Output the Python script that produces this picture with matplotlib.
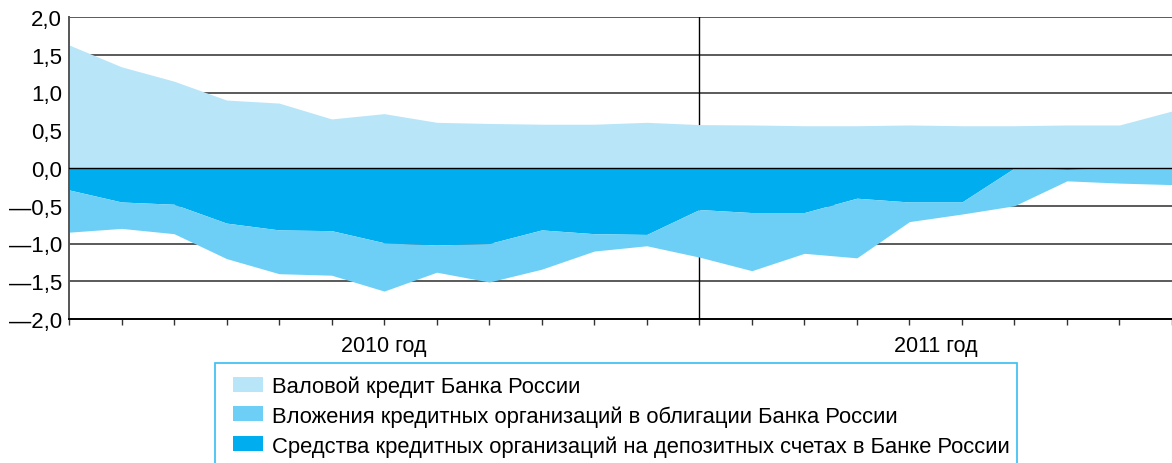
import numpy as np
import matplotlib.pyplot as plt
from matplotlib.patches import Rectangle

plt.rcParams['font.family'] = ['Liberation Sans', 'DejaVu Sans']

# monthly points, Jan 2010 .. Oct 2011, трлн руб.
months = list(range(22))
gross_credit = [1.63, 1.34, 1.15, 0.90, 0.86, 0.65, 0.72, 0.605, 0.59, 0.58, 0.58,
                0.605, 0.575, 0.57, 0.56, 0.56, 0.57, 0.56, 0.56, 0.57, 0.57, 0.755]
deposits = [-0.29, -0.45, -0.48, -0.73, -0.82, -0.83, -0.99, -1.02, -1.00, -0.82, -0.87,
            -0.88, -0.55, -0.59, -0.59, -0.40, -0.45, -0.45, 0.0, -0.02, 0.0, 0.0]
bonds = [-0.56, -0.35, -0.39, -0.47, -0.58, -0.59, -0.64, -0.36, -0.51, -0.52, -0.23,
         -0.15, -0.63, -0.77, -0.54, -0.79, -0.26, -0.16, -0.50, -0.15, -0.20, -0.22]
year_labels = ['2010 год', '2011 год']
series_names = ['Валовой кредит Банка России',
                'Вложения кредитных организаций в облигации Банка России',
                'Средства кредитных организаций на депозитных счетах в Банке России']

c_light = '#B9E5F8'
c_mid = '#6DCFF6'
c_dark = '#00AEEF'

W, H = 1172, 464
x = np.array(months)
dep = np.array(deposits)
total = dep + np.array(bonds)

fig = plt.figure(figsize=(W / 100, H / 100), dpi=100)
ax = fig.add_axes([69 / W, 144 / H, 1 - 69 / W, 302 / H])

# grid under the fills
for yv in [2.0, 1.5, 1.0, 0.5, -0.5, -1.0, -1.5]:
    ax.axhline(yv, color='#5a5a5a', lw=1.4, zorder=0)
ax.axvline(12, color='black', lw=1.0, zorder=0)

ax.fill_between(x, 0, gross_credit, color=c_light, lw=0, zorder=1)
ax.fill_between(x, 0, dep, color=c_dark, lw=0, zorder=1)
ax.fill_between(x, dep, total, color=c_mid, lw=0, zorder=1)
ax.axhline(0, color='black', lw=1.0, zorder=3)

ax.set_xlim(0, 21)
ax.set_ylim(-2.0, 2.0)
ax.set_xticks(x)
ax.set_xticklabels([])
ax.tick_params(axis='x', length=4, width=1, color='#333333', direction='out')
yt = np.arange(-2.0, 2.01, 0.5)
ax.set_yticks(yt)
ax.set_yticklabels([('—' if v < 0 else '') + f'{abs(v):.1f}'.replace('.', ',') for v in yt])
ax.tick_params(axis='y', length=0, pad=5, labelsize=16)
for s in ['top', 'right']:
    ax.spines[s].set_visible(False)
ax.spines['left'].set_color('#555555')
ax.spines['left'].set_linewidth(1.4)
ax.spines['bottom'].set_color('black')
ax.spines['bottom'].set_linewidth(1.4)

ax.text(6, -2.42, year_labels[0], ha='center', va='baseline', fontsize=15.5)
ax.text(16.5, -2.42, year_labels[1], ha='center', va='baseline', fontsize=15.5)

# legend box, drawn by hand (runs off the bottom edge like in the source)
fig.patches.append(Rectangle((215 / W, -0.05), (1017 - 215) / W, 0.05 + (H - 364) / H,
                             transform=fig.transFigure, fill=False,
                             edgecolor='#45C2F2', lw=1.3))
for name, col, yc in zip(series_names, [c_light, c_mid, c_dark], [385, 414.5, 444.5]):
    fig.patches.append(Rectangle((233 / W, (H - yc - 7.5) / H), 30 / W, 15 / H,
                                 transform=fig.transFigure, color=col, lw=0))
    fig.text(272 / W, (H - yc) / H, name, ha='left', va='center_baseline', fontsize=15.8)

fig.savefig('out.png', dpi=100)
